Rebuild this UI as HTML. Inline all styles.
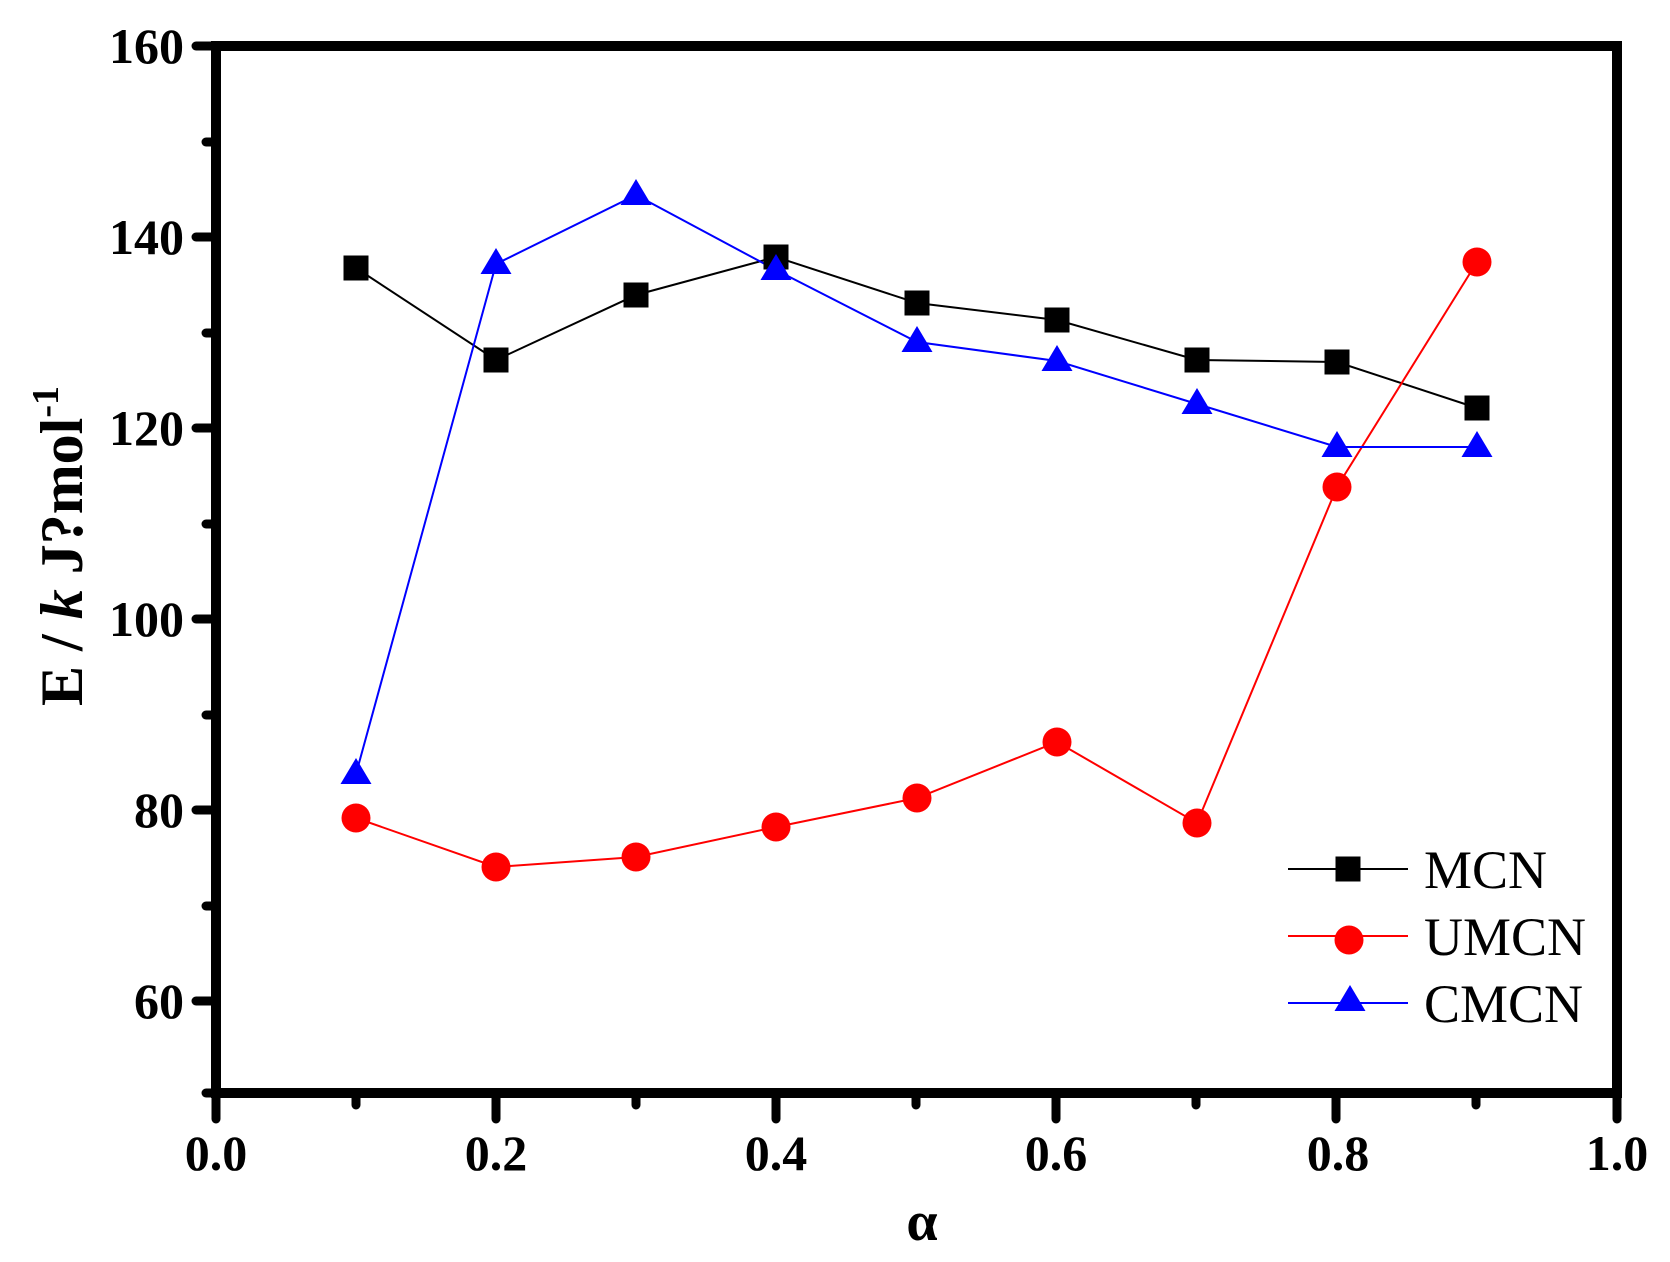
<!DOCTYPE html>
<html><head><style>body{margin:0;background:#fff}svg{display:block}text{font-family:"Liberation Serif","Times New Roman",serif}</style></head><body>
<svg width="1670" height="1262" xmlns="http://www.w3.org/2000/svg">
<defs>
<g id="sq"><rect x="-12.5" y="-12.5" width="25" height="25" fill="#000"/></g>
<g id="ci"><circle r="14.5" fill="#f00"/></g>
<g id="tr"><polygon points="0,-16 15.5,10 -15.5,10" fill="#00f"/></g>
</defs>
<rect x="216" y="46" width="1401" height="1047" fill="none" stroke="#000" stroke-width="10"/>
<g stroke="#000" stroke-width="9" stroke-linecap="round">
<line x1="196" y1="46" x2="216" y2="46"/><line x1="196" y1="237" x2="216" y2="237"/>
<line x1="196" y1="428" x2="216" y2="428"/><line x1="196" y1="619" x2="216" y2="619"/>
<line x1="196" y1="810" x2="216" y2="810"/><line x1="196" y1="1001" x2="216" y2="1001"/>
<line x1="206" y1="142" x2="216" y2="142"/><line x1="206" y1="333" x2="216" y2="333"/>
<line x1="206" y1="524" x2="216" y2="524"/><line x1="206" y1="715" x2="216" y2="715"/>
<line x1="206" y1="906" x2="216" y2="906"/><line x1="206" y1="1093" x2="216" y2="1093"/>
<line x1="216" y1="1093" x2="216" y2="1119"/><line x1="496" y1="1093" x2="496" y2="1119"/>
<line x1="776" y1="1093" x2="776" y2="1119"/><line x1="1056" y1="1093" x2="1056" y2="1119"/>
<line x1="1336" y1="1093" x2="1336" y2="1119"/><line x1="1617" y1="1093" x2="1617" y2="1119"/>
<line x1="356" y1="1093" x2="356" y2="1105"/><line x1="636" y1="1093" x2="636" y2="1105"/>
<line x1="916" y1="1093" x2="916" y2="1105"/><line x1="1196" y1="1093" x2="1196" y2="1105"/>
<line x1="1476" y1="1093" x2="1476" y2="1105"/>
</g>
<g font-weight="bold" font-size="50" text-anchor="end">
<text x="184" y="63">160</text><text x="184" y="254">140</text><text x="184" y="445">120</text>
<text x="184" y="636">100</text><text x="184" y="827">80</text><text x="184" y="1018">60</text>
</g>
<g font-weight="bold" font-size="50" text-anchor="middle">
<text x="216" y="1170">0.0</text><text x="496" y="1170">0.2</text><text x="776" y="1170">0.4</text>
<text x="1056" y="1170">0.6</text><text x="1338" y="1170">0.8</text><text x="1617" y="1170">1.0</text>
<text x="922" y="1240" font-size="56">α</text>
</g>
<text transform="translate(82,546) rotate(-90)" text-anchor="middle" font-weight="bold" font-size="60">E / <tspan font-style="italic">k</tspan> J?mol<tspan font-size="38" dy="-24">-1</tspan></text>
<polyline fill="none" stroke="#000" stroke-width="2" points="356,268 496,360 636,295 776,257 917,303 1057,320 1197,360 1337,362 1477,408"/>
<polyline fill="none" stroke="#f00" stroke-width="2" points="356,818 496,867 636,857 776,827 917,798 1057,742 1197,823 1337,487 1477,262"/>
<polyline fill="none" stroke="#00f" stroke-width="2" points="356,774 496,264 636,195 776,270 917,342 1057,361 1197,404 1337,447 1477,447"/>
<g>
<use href="#sq" x="356" y="268"/><use href="#sq" x="496" y="360"/><use href="#sq" x="636" y="295"/><use href="#sq" x="776" y="257"/><use href="#sq" x="917" y="303"/><use href="#sq" x="1057" y="320"/><use href="#sq" x="1197" y="360"/><use href="#sq" x="1337" y="362"/><use href="#sq" x="1477" y="408"/>
<use href="#ci" x="356" y="818"/><use href="#ci" x="496" y="867"/><use href="#ci" x="636" y="857"/><use href="#ci" x="776" y="827"/><use href="#ci" x="917" y="798"/><use href="#ci" x="1057" y="742"/><use href="#ci" x="1197" y="823"/><use href="#ci" x="1337" y="487"/><use href="#ci" x="1477" y="262"/>
<use href="#tr" x="356" y="774"/><use href="#tr" x="496" y="264"/><use href="#tr" x="636" y="195"/><use href="#tr" x="776" y="270"/><use href="#tr" x="917" y="342"/><use href="#tr" x="1057" y="361"/><use href="#tr" x="1197" y="404"/><use href="#tr" x="1337" y="447"/><use href="#tr" x="1477" y="447"/>
</g>
<line x1="1288" y1="869" x2="1408" y2="869" stroke="#000" stroke-width="2"/><use href="#sq" x="1348" y="869"/>
<line x1="1288" y1="936" x2="1408" y2="936" stroke="#f00" stroke-width="2"/><use href="#ci" x="1349" y="940"/>
<line x1="1288" y1="1003" x2="1408" y2="1003" stroke="#00f" stroke-width="2"/><use href="#tr" x="1350" y="1001"/>
<g font-size="54"><text x="1424" y="888">MCN</text><text x="1424" y="955">UMCN</text><text x="1424" y="1022">CMCN</text></g>
</svg>
</body></html>
